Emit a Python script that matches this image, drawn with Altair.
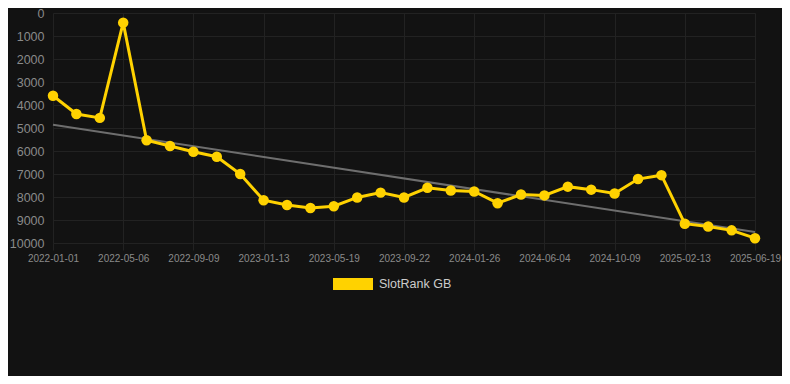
import json
import altair as alt
import pandas as pd

dates = [
    "2022-01-01", "2022-02-12", "2022-03-26", "2022-05-06", "2022-06-17", "2022-07-29",
    "2022-09-09", "2022-10-21", "2022-12-02", "2023-01-13", "2023-02-24", "2023-04-07",
    "2023-05-19", "2023-06-30", "2023-08-11", "2023-09-22", "2023-11-03", "2023-12-15",
    "2024-01-26", "2024-03-09", "2024-04-22", "2024-06-04", "2024-07-16", "2024-08-28",
    "2024-10-09", "2024-11-20", "2025-01-02", "2025-02-13", "2025-03-28", "2025-05-09",
    "2025-06-19",
]
values = [
    3600, 4390, 4560, 420, 5530, 5780, 6030, 6250, 7000, 8140,
    8350, 8480, 8400, 8020, 7810, 8020, 7600, 7720, 7760, 8270,
    7890, 7930, 7550, 7680, 7850, 7220, 7050, 9160, 9280, 9450,
    9790,
]
series_name = "SlotRank GB"
y_ticks = [0, 1000, 2000, 3000, 4000, 5000, 6000, 7000, 8000, 9000, 10000]

df = pd.DataFrame({"date": dates, "value": values})
df["series"] = series_name
df["idx"] = list(range(len(df)))

YELLOW = "#FFD200"
GRID = "#222222"
LABEL = "#8a8a8a"
FONT = "Liberation Sans"

tick_idx = list(range(0, len(dates), 3))
label_expr = json.dumps(dates) + "[datum.value]"

x_enc = alt.X(
    "idx:Q",
    scale=alt.Scale(domain=[0, len(dates) - 1], nice=False, zero=False),
    axis=alt.Axis(
        values=tick_idx, labelExpr=label_expr, title=None, grid=True,
        gridColor=GRID, tickColor=GRID, tickSize=7, domain=False,
        labelColor=LABEL, labelFontSize=10, labelPadding=3, labelFont=FONT,
        labelOverlap=False, labelBound=False, labelFlush=False,
    ),
)
y_enc = alt.Y(
    "value:Q",
    scale=alt.Scale(domain=[0, 10000], reverse=True, nice=False),
    axis=alt.Axis(
        values=y_ticks, format="d", title=None, grid=True, gridColor=GRID,
        ticks=False, domain=False, labelColor=LABEL, labelFontSize=12.5,
        labelPadding=9, labelFont=FONT,
    ),
)

base = alt.Chart(df)

trend = base.transform_regression("idx", "value").mark_line(
    color="#6e6e6e", strokeWidth=2
).encode(x=x_enc, y=y_enc)

line = base.mark_line(color=YELLOW, strokeWidth=3).encode(x=x_enc, y=y_enc)

points = base.mark_point(filled=True, size=110, opacity=1).encode(
    x=x_enc,
    y=y_enc,
    color=alt.Color(
        "series:N",
        scale=alt.Scale(domain=[series_name], range=[YELLOW]),
        legend=alt.Legend(
            title=None, orient="none", legendX=280, legendY=251,
            symbolType="M-1,-0.3L1,-0.3L1,0.3L-1,0.3Z", symbolSize=1600,
            symbolStrokeWidth=0, symbolOpacity=1,
            labelColor="#cccccc", labelFontSize=12.5, labelFont=FONT,
            labelOffset=6,
        ),
    ),
)

chart = (
    alt.layer(trend, line, points)
    .properties(
        width=702, height=230,
        autosize=alt.AutoSizeParams(type="none"),
        padding={"left": 45, "top": 5, "right": 27, "bottom": 133},
        background="#121212",
    )
    .configure_view(stroke=None)
)

chart.save("out.html", embed_options={"renderer": "svg", "actions": False})
